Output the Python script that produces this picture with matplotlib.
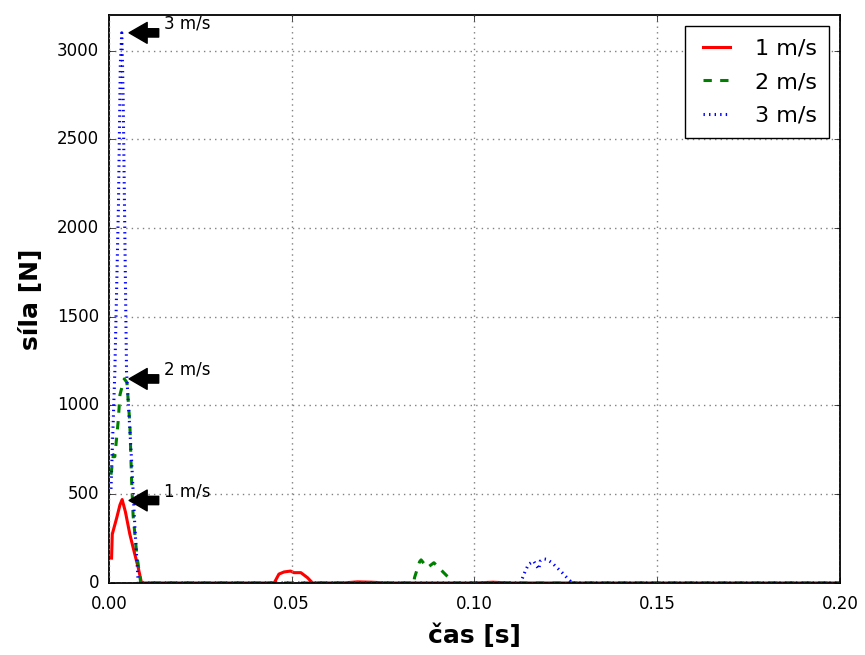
import numpy as np
import matplotlib
matplotlib.use("Agg")
import matplotlib.pyplot as plt

# casy a sily
t1 = [0.0007, 0.0009, 0.0021, 0.003, 0.0036, 0.0045, 0.0057, 0.0069, 0.008, 0.0089,
      0.0452, 0.0465, 0.0479, 0.0497, 0.0506, 0.0525, 0.0543, 0.0557,
      0.064, 0.068, 0.072, 0.076, 0.100, 0.105, 0.110, 0.200]
f1 = [140, 275, 366, 440, 470, 400, 275, 175, 86, 0,
      0, 50, 62, 67, 58, 58, 30, 0,
      0, 6, 4, 0, 0, 4, 0, 0]

t2 = [0.00055, 0.0012, 0.0016, 0.0025, 0.003, 0.0039, 0.0042, 0.0049, 0.0057, 0.0062,
      0.0066, 0.0076, 0.0087,
      0.0834, 0.0836, 0.0850, 0.0854, 0.0871, 0.0889, 0.0898, 0.0925, 0.0934, 0.0940, 0.200]
f2 = [610, 723, 712, 908, 1060, 1132, 1150, 1130, 900, 570,
      380, 160, 0,
      0, 30, 120, 130, 86, 114, 95, 39, 22, 0, 0]

t3 = [0.00055, 0.0016, 0.0026, 0.0031, 0.0035, 0.0037, 0.0039, 0.0044, 0.0048, 0.0062,
      0.0071, 0.0080,
      0.1128, 0.1130, 0.1139, 0.1148, 0.1162, 0.1176, 0.1180, 0.1189, 0.1198, 0.1212,
      0.1226, 0.1240, 0.1253, 0.1262, 0.1265, 0.200]
f3 = [530, 1190, 2140, 2925, 3100, 2925, 2700, 1860, 1190, 684,
      310, 0,
      0, 20, 67, 105, 123, 77, 123, 136, 133, 114,
      86, 58, 30, 11, 0, 0]

labels = ["1 m/s", "2 m/s", "3 m/s"]
peaks = [465, 1150, 3100]

plt.style.use("classic")
fig = plt.figure(figsize=(8.65, 6.55), dpi=100, facecolor="white")
ax = fig.add_axes([0.126, 0.110, 0.845, 0.867])

ax.plot(t1, f1, color="red", lw=2.2, ls="-", label=labels[0])
ax.plot(t2, f2, color="green", lw=2.2, ls="--", label=labels[1])
ax.plot(t3, f3, color="blue", lw=2.2, ls=":", label=labels[2])

for lab, p in zip(labels, peaks):
    ax.annotate(lab, xy=(0.005, p), xytext=(0.015, p + 22), fontsize=12,
                arrowprops=dict(facecolor="black", shrink=0.05,
                                width=6, headwidth=15, headlength=13))

ax.set_xlim(0, 0.2)
ax.set_ylim(0, 3200)
ax.set_xticks(np.arange(0, 0.201, 0.05))
ax.set_yticks(np.arange(0, 3001, 500))
ax.tick_params(axis="x", pad=9)
ax.tick_params(axis="y", pad=7)
ax.grid(True, color="0.5", ls=":", lw=1)
for s in ax.spines.values():
    s.set_linewidth(1.3)

ax.set_xlabel("čas [s]", fontsize=18, fontweight="bold", labelpad=7)
ax.set_ylabel("síla [N]", fontsize=18, fontweight="bold", labelpad=10)

leg = ax.legend(loc="upper right", fontsize=16, handlelength=1.8,
                labelspacing=0.62, borderpad=0.55)
leg.get_frame().set_linewidth(1.0)

fig.savefig("out.png", dpi=100, facecolor="white")
